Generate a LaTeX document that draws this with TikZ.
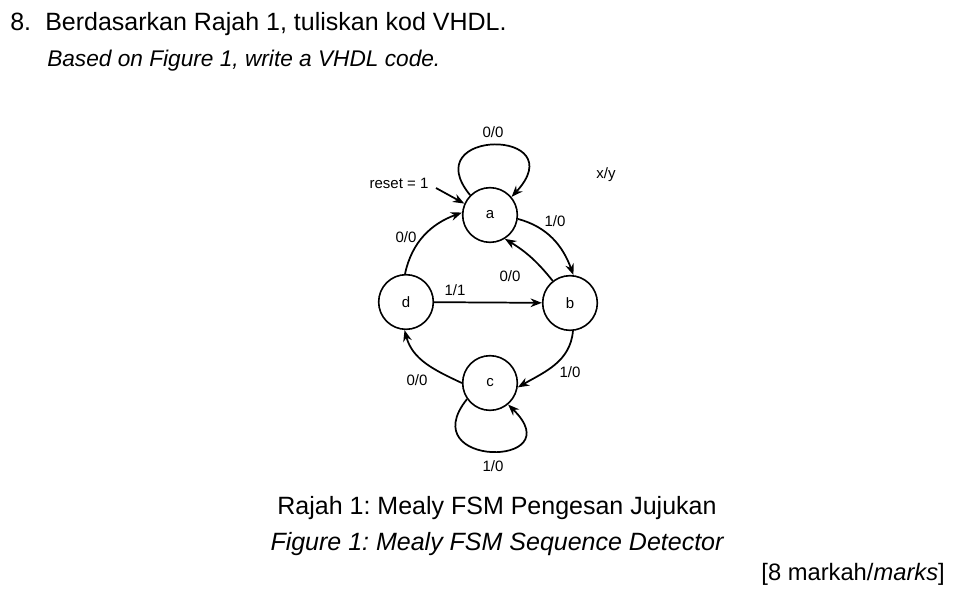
\documentclass[tikz,border=0pt]{standalone}
\usepackage{fontspec}
\setmainfont{Liberation Sans}
\frenchspacing
\usetikzlibrary{positioning,arrows.meta}
\tikzset{state/.style={draw,circle,line width=1.2pt,minimum size=41pt,inner sep=0pt,font=\fontsize{11.25}{13}\selectfont}}
\tikzset{trans/.style={draw,line width=1.3pt,-{Stealth[length=8.5pt,width=6.5pt]}}}
\tikzset{lbl/.style={font=\fontsize{11.25}{13}\selectfont,inner sep=0pt}}
\tikzset{big/.style={font=\fontsize{18.75}{22}\selectfont,inner sep=0pt}}

\begin{document}
\begin{tikzpicture}[x=0.75pt,y=0.75pt]
    \useasboundingbox (0,0) rectangle (964,-596);
    % question
    \node[big,anchor=base west] (num) at (10,-31) {8.};
    \node[big,anchor=base west] (q) at (45,-31) {Berdasarkan Rajah 1, tuliskan kod VHDL.};
    \node[big,anchor=base west,font=\fontsize{17}{20}\selectfont\itshape] (qen) at (47,-66) {Based on Figure 1, write a VHDL code.};
    % states
    \node[state] (a) at (490,-215) {a};
    \node[state] (b) at (570,-303) {b};
    \node[state] (d) at (406,-302) {d};
    \node[state] (c) at (490,-383) {c};
    % labels
    \node[lbl] (xy) at (606,-175) {x/y};
    \node[lbl] (reset) at (399,-183) {reset = 1};
    \coordinate (rst) at (436,-188);
    \node[lbl] (aa) at (493,-132) {0/0};
    \node[lbl] (ab) at (555,-221) {1/0};
    \node[lbl] (da) at (406,-237) {0/0};
    \node[lbl] (ba) at (510,-276) {0/0};
    \node[lbl] (db) at (455,-290) {1/1};
    \node[lbl] (bc) at (570,-372) {1/0};
    \node[lbl] (cd) at (417,-380) {0/0};
    \node[lbl] (cc) at (493,-466) {1/0};
    % transitions
    \path[trans] (rst) -- (a.156);
    \path[trans] (a.135) .. controls (415,-128) and (575,-128) .. (a.40);
    \path[trans] (a.-8) to[out=-15,in=110] (b.83);
    \path[trans] (b.128) to[bend right=10] (a.-58);
    \path[trans] (d.92) to[out=78,in=200] (a.175);
    \path[trans] (d) -- (b);
    \path[trans] (b.-84) to[out=-95,in=30] (c.-9);
    \path[trans] (c.180) to[out=155,in=-75] (d.-93);
    \path[trans] (c.215) .. controls (412,-468) and (573,-468) .. (c.-50);
    % caption
    \node[big,anchor=base] (cap) at (497,-514) {Rajah 1: Mealy FSM Pengesan Jujukan};
    \node[big,anchor=base,font=\fontsize{18.75}{22}\selectfont\itshape] (capen) at (497,-550) {Figure 1: Mealy FSM Sequence Detector};
    \node[big,anchor=base east,font=\fontsize{17.8}{21}\selectfont] (marks) at (945,-580) {[8 markah/\textit{marks}]};
\end{tikzpicture}
\end{document}
